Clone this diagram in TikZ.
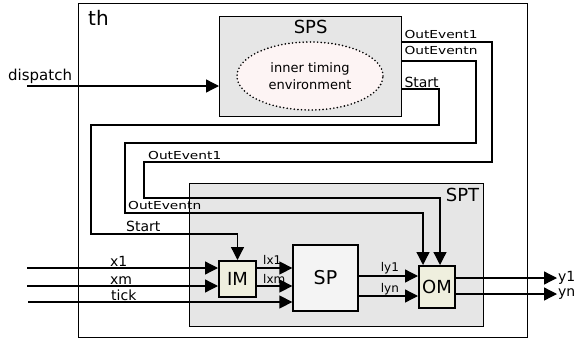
\documentclass[tikz,border=0pt]{standalone}
\usepackage{fontspec}
\setmainfont{DejaVu Sans}
\newfontfamily\evtfont[FakeStretch=1.25]{DejaVu Sans}
\usetikzlibrary{positioning, calc, arrows.meta, shapes.geometric}
\definecolor{boxgray}{HTML}{E6E6E6}
\definecolor{envpink}{HTML}{FDF4F4}
\definecolor{modcream}{HTML}{EFEFDE}
\newcommand{\fs}[1]{\fontsize{#1}{#1}\selectfont}
\tikzset{
	block/.style={
		draw,
		line width=1.3pt,
		fill=boxgray,
		anchor=north west,
		inner sep=0pt
	},
	module/.style={
		draw,
		line width=2pt,
		fill=modcream,
		inner sep=0pt,
		font=\fs{18}
	},
	sig/.style={
		line width=1.3pt,
		-{Triangle[length=13pt,width=13pt]}
	},
	evt/.style={inner sep=0pt, anchor=base west, font=\evtfont\fs{11}},
	lbl/.style={inner sep=0pt, anchor=base west, font=\fs{14}}
}

\begin{document}
\begin{tikzpicture}[x=1pt, y=-1pt]
	\useasboundingbox (0,0) rectangle (577,345);

	% blocks
	\node[block, fill=white, minimum width=449pt, minimum height=334pt] (th) at (78,3) {};
	\node[inner sep=0pt, anchor=north west, font=\fs{20}] (thdsc) at (88,10) {th};

	\node[block, minimum width=182pt, minimum height=100pt] (sps) at (219,16) {};
	\node[inner sep=0pt, anchor=north, font=\fs{18}] (spsdsc) at ($(sps.north)+(0,4)$) {SPS};
	\node[ellipse, draw, line width=1.8pt, line cap=round, dash pattern=on 0pt off 3.6pt,
		fill=envpink, minimum width=146pt, minimum height=68pt, inner sep=0pt,
		align=center, font=\fontsize{13}{17}\selectfont] (env) at (310,76) {inner timing\\environment};

	\node[block, minimum width=294pt, minimum height=143pt] (spt) at (189,183) {};
	\node[inner sep=0pt, anchor=north east, font=\fs{18}] (sptdsc) at ($(spt.north east)+(-5,5)$) {SPT};

	\node[module, minimum width=37pt, minimum height=36pt] (im) at (237.5,279) {IM};
	\node[block, fill=gray!9, anchor=center, minimum width=65pt, minimum height=66pt, font=\fs{19}] (sp) at (325.5,278) {SP};
	\node[module, minimum width=36pt, minimum height=42pt] (om) at (437,287) {OM};

	% dispatch
	\coordinate (dispin) at (27,86);
	\draw[sig] (dispin) -- (dispin -| sps.west);
	\node[lbl, font=\fs{15}] (dispdsc) at (8,80) {dispatch};

	% events from SPS back into SPT
	\coordinate (ev1) at ($(sps.north east)+(0,26)$);
	\coordinate (evn) at ($(sps.north east)+(0,45)$);
	\coordinate (st) at ($(sps.north east)+(0,73)$);
	\coordinate (ev1a) at (492,162);
	\coordinate (ev1b) at (144,198);
	\coordinate (evna) at (476,143);
	\coordinate (evnb) at (125,213);
	\coordinate (sta) at (439,125);
	\coordinate (stb) at (91,234);
	\coordinate (omin1) at ($(om.north west)+(22,0)$);
	\coordinate (ominn) at ($(om.north west)+(5,0)$);

	\draw[sig] (ev1) -| (ev1a) -| (ev1b) -| (omin1);
	\draw[sig] (evn) -| (evna) -| (evnb) -| (ominn);
	\draw[sig] (st) -| (sta) -| (stb) -| (im.north);

	\node[evt] (ev1dsc) at ($(ev1)+(2,-4)$) {OutEvent1};
	\node[evt] (evndsc) at ($(evn)+(2,-7)$) {OutEventn};
	\node[lbl] (stdsc) at ($(st)+(2,-2)$) {Start};
	\node[evt] (ev1dscb) at ($(ev1b |- ev1a)+(4,-3)$) {OutEvent1};
	\node[evt] (evndscb) at ($(evnb)+(3,-4)$) {OutEventn};
	\node[lbl] (stdscb) at ($(stb)+(35,-3)$) {Start};

	% inputs
	\coordinate (x1in) at (27,268);
	\coordinate (xmin) at (27,286);
	\coordinate (tickin) at (28,302);
	\draw[sig] (x1in) -- (x1in -| im.west);
	\draw[sig] (xmin) -- (xmin -| im.west);
	\draw[sig] (tickin) -- (tickin -| sp.west);
	\foreach \s/\txt in {x1in/x1, xmin/xm, tickin/tick} {
		\node[lbl] (\s dsc) at ($(\s)+(83,-2)$) {\txt};
	}

	% internal signals
	\draw[sig] (im.east |- x1in) -- (sp.west |- x1in);
	\draw[sig] (im.east |- xmin) -- (sp.west |- xmin);
	\node[lbl, font=\fs{12}] (lx1dsc) at ($(im.east |- x1in)+(6,-4)$) {lx1};
	\node[lbl, font=\fs{12}] (lxmdsc) at ($(im.east |- xmin)+(6,-3)$) {lxm};

	\coordinate (ly1) at ($(sp.east)+(0,-2)$);
	\coordinate (lyn) at ($(sp.east)+(0,18)$);
	\draw[sig] (ly1) -- (ly1 -| om.west);
	\draw[sig] (lyn) -- (lyn -| om.west);
	\node[lbl, font=\fs{12}] (ly1dsc) at ($(ly1)+(22,-5)$) {ly1};
	\node[lbl, font=\fs{12}] (lyndsc) at ($(lyn)+(22,-4)$) {lyn};

	% outputs
	\coordinate (y1out) at (557,278);
	\coordinate (ynout) at (557,294);
	\draw[sig] (om.east |- y1out) -- (y1out);
	\draw[sig] (om.east |- ynout) -- (ynout);
	\node[inner sep=1pt, anchor=west, font=\fs{14}] (y1dsc) at (y1out) {y1};
	\node[inner sep=1pt, anchor=west, font=\fs{14}] (yndsc) at (ynout) {yn};
\end{tikzpicture}
\end{document}
